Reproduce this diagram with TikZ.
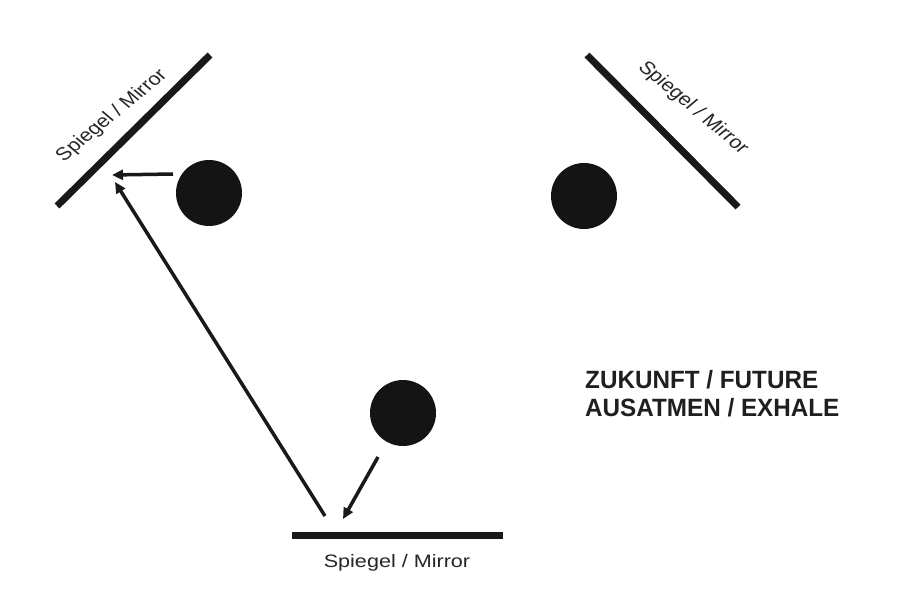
\documentclass[tikz,border=0pt]{standalone}
\usepackage{fontspec}
\setmainfont{Liberation Sans}
\usetikzlibrary{arrows.meta}
\begin{document}
\begin{tikzpicture}[x=1pt,y=-1pt,
  mirror/.style={line width=7pt,draw=black!90},
  ball/.style={circle,fill=black!92,minimum size=66pt,inner sep=0pt},
  ray/.style={line width=3.5pt,draw=black!90,-{Triangle[length=11pt,width=10pt]}},
  mlabel/.style={font=\fontsize{18}{20}\selectfont,text=black!85,inner sep=0pt,xscale=1.2},
  big/.style={font=\bfseries\fontsize{25}{28}\selectfont,text=black!88,inner sep=0pt,anchor=north west,align=left,xscale=0.97}
]
\fill[white] (0,0) rectangle (902,596);
\useasboundingbox (0,0) rectangle (902,596);
% mirrors
\coordinate (lm1) at (57,206); \coordinate (lm2) at (210,55);
\coordinate (rm1) at (587,55); \coordinate (rm2) at (738,207);
\coordinate (bm1) at (292,535); \coordinate (bm2) at (503,535);
\draw[mirror] (lm1) -- (lm2);
\draw[mirror] (rm1) -- (rm2);
\draw[mirror] (bm1) -- (bm2);
\node[mlabel,rotate=44.6] (lml) at (112,116) {Spiegel / Mirror};
\node[mlabel,rotate=-45] (rml) at (693,108) {Spiegel / Mirror};
\node[mlabel] (bml) at (397,563) {Spiegel / Mirror};
% balls
\node[ball] (lb) at (209,193) {};
\node[ball] (rb) at (584,196) {};
\node[ball] (bb) at (403,413) {};
% rays
\coordinate (a1s) at (173,174); \coordinate (a1e) at (112,175);
\coordinate (a2s) at (325,516); \coordinate (a2e) at (115,182);
\coordinate (a3s) at (378,457); \coordinate (a3e) at (343,519);
\draw[ray] (a1s) -- (a1e);
\draw[ray] (a2s) -- (a2e);
\draw[ray] (a3s) -- (a3e);
% text
\node[big] (t) at (585,370) {ZUKUNFT / FUTURE\\AUSATMEN / EXHALE};
\end{tikzpicture}
\end{document}
